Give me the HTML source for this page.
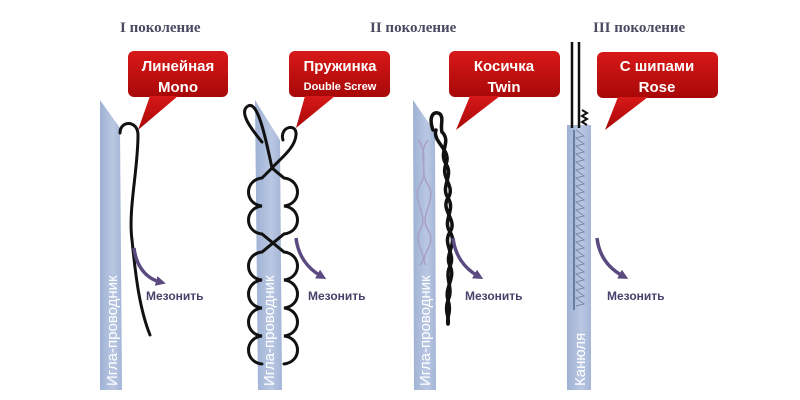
<!DOCTYPE html>
<html><head><meta charset="utf-8"><style>
html,body{margin:0;padding:0;background:#fff;width:800px;height:400px;overflow:hidden}
svg{display:block}
.gen{font-family:"Liberation Serif",serif;font-weight:bold;font-size:15px;fill:#4a4a62}
.cl{font-family:"Liberation Sans",sans-serif;font-weight:bold;fill:#fff;text-anchor:middle}
.mz{font-family:"Liberation Sans",sans-serif;font-weight:bold;font-size:12px;fill:#4a3f6a}
.nd{font-family:"Liberation Sans",sans-serif;font-size:15px;fill:#fff}
</style></head><body>
<svg width="800" height="400" viewBox="0 0 800 400" xmlns="http://www.w3.org/2000/svg">
<defs>
<linearGradient id="red" x1="0" y1="0" x2="0" y2="1"><stop offset="0" stop-color="#d81818"/><stop offset="1" stop-color="#a80808"/></linearGradient>
<linearGradient id="nd" x1="0" y1="0" x2="1" y2="0"><stop offset="0" stop-color="#9fb2d4"/><stop offset="0.6" stop-color="#b9c7e2"/><stop offset="1" stop-color="#a4b5d6"/></linearGradient>
<marker id="ah" markerWidth="10" markerHeight="10" refX="4" refY="5" orient="auto" markerUnits="userSpaceOnUse"><path d="M0,0 L10,5 L0,10 z" fill="#5a4a80"/></marker>
</defs>
<text class="gen" x="120" y="32">I поколение</text>
<text class="gen" x="370" y="32">II поколение</text>
<text class="gen" x="593" y="32">III поколение</text>

<path d="M100,100 L120,128 L122,390 L100,390 Z" fill="url(#nd)"/>
<path d="M255,100 L280,140 L282,390 L258,390 Z" fill="url(#nd)"/>
<path d="M413,100 L435,132 L436,390 L414,390 Z" fill="url(#nd)"/>
<rect x="567" y="125" width="24" height="265" fill="url(#nd)"/>
<text class="nd" transform="translate(117,386) rotate(-90)">Игла-проводник</text>
<text class="nd" transform="translate(274,386) rotate(-90)">Игла-проводник</text>
<text class="nd" transform="translate(430,386) rotate(-90)">Игла-проводник</text>
<text class="nd" transform="translate(585,386) rotate(-90)">Канюля</text>

<g fill="url(#red)">
<rect x="128" y="51" width="100" height="46" rx="6"/><path d="M150,96 L178,96 L138,130 Z"/>
<rect x="289" y="51" width="101" height="46" rx="6"/><path d="M305,96 L335,96 L296,128 Z"/>
<rect x="449" y="51" width="111" height="46" rx="6"/><path d="M470,96 L500,96 L456,130 Z"/>
<rect x="597" y="52" width="121" height="46" rx="6"/><path d="M618,97 L648,97 L605,130 Z"/>
</g>
<text class="cl" x="178" y="71" font-size="15">Линейная</text><text class="cl" x="178" y="92" font-size="15">Mono</text>
<text class="cl" x="340" y="71" font-size="15">Пружинка</text><text class="cl" x="340" y="90" font-size="11">Double Screw</text>
<text class="cl" x="504" y="71" font-size="15">Косичка</text><text class="cl" x="504" y="92" font-size="15">Twin</text>
<text class="cl" x="657" y="71" font-size="15">С шипами</text><text class="cl" x="657" y="92" font-size="15">Rose</text>

<g fill="none" stroke="#a8a0c8" stroke-width="1.5">
<path d="M418,140 C430,155 418,170 428,185 C438,200 418,215 428,230 C438,245 418,255 426,265"/>
<path d="M428,140 C416,155 430,170 420,185 C410,200 430,215 420,230 C412,245 430,255 420,265"/>
</g>
<g fill="none" stroke="#111" stroke-width="3" stroke-linecap="round">
<path d="M120,133 C120,120 138,120 138,135 C138,170 128,210 132,240 C136,280 140,310 150,335"/>
<!-- double screw strand A -->
<path d="M283,140 C279,127 297,122 296,135 C295,148 281,158 272,168 L262,178 C244,180 244,204 262,206 C244,208 244,232 262,234 L284,252 C302,254 302,278 284,280 C302,282 302,306 284,308 C302,310 302,334 284,336 C302,338 302,362 284,364"/>
<!-- strand B -->
<path d="M262,142 C252,130 238,112 248,106 C258,100 266,140 272,168 L284,178 C302,180 302,204 284,206 C302,208 302,232 284,234 L262,252 C244,254 244,278 262,280 C244,282 244,306 262,308 C244,310 244,334 262,336 C244,338 244,362 262,364"/>
</g>
<!-- twin -->
<g fill="none" stroke="#111" stroke-width="3.5" stroke-linecap="round">
<path d="M433,130 C428,116 434,110 440,114 C444,118 440,126 442,132"/>
<path d="M442,132 C452,142 438,152 446,164 C454,176 440,186 448,198 C456,210 442,220 450,232 C458,244 444,254 450,266 C456,278 444,288 448,300 C452,312 446,318 448,324"/>
<path d="M436,130 C432,142 452,150 446,164 C440,178 456,186 448,198 C440,210 458,220 450,232 C442,244 456,254 450,266 C444,278 454,288 448,300 C444,312 450,318 448,324"/>
</g>
<g stroke="#111" stroke-width="2.5"><line x1="572" y1="42" x2="572" y2="128"/><line x1="579" y1="42" x2="579" y2="128"/></g>
<path d="M582,110 l5,3 -5,3 5,3 -5,3 5,3" fill="none" stroke="#111" stroke-width="2"/>
<line x1="574" y1="130" x2="574" y2="310" stroke="#6b7d9c" stroke-width="2"/>
<path d="M576,130 l8,6 -8,2 8,6 -8,2 8,6 -8,2 8,6 -8,2 8,6 -8,2 8,6 -8,2 8,6 -8,2 8,6 -8,2 8,6 -8,2 8,6 -8,2 8,6 -8,2 8,6 -8,2 8,6 -8,2 8,6 -8,2 8,6 -8,2 8,6 -8,2 8,6 -8,2 8,6 -8,2 8,6 -8,2 8,6 -8,2 8,6 -8,2 8,6 -8,2" fill="none" stroke="#7a8aa8" stroke-width="1"/>

<g fill="none" stroke="#5a4a80" stroke-width="3.5" marker-end="url(#ah)">
<path d="M134,248 C136,265 145,278 160,282"/>
<path d="M296,238 C298,255 307,268 321,276"/>
<path d="M453,238 C455,255 464,268 478,276"/>
<path d="M597,238 C599,255 608,268 623,276"/>
</g>
<text class="mz" x="146" y="300">Мезонить</text>
<text class="mz" x="308" y="300">Мезонить</text>
<text class="mz" x="465" y="300">Мезонить</text>
<text class="mz" x="607" y="300">Мезонить</text>
</svg>
</body></html>
